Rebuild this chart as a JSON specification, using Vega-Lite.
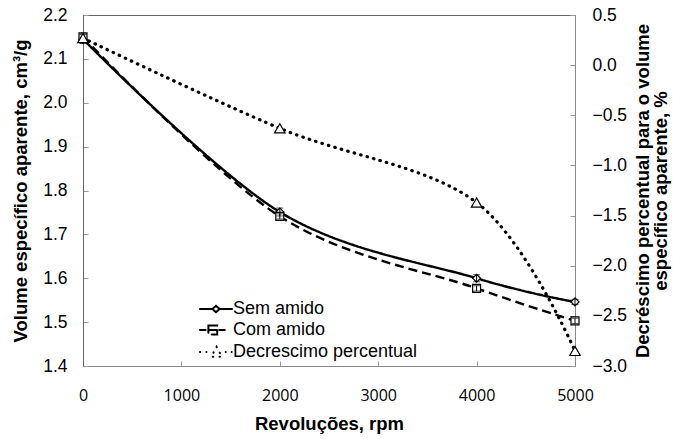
{
  "$schema": "https://vega.github.io/schema/vega-lite/v6.json",
  "width": 492,
  "height": 351,
  "autosize": "none",
  "padding": {"left": 83, "top": 15, "right": 98, "bottom": 73},
  "background": "white",
  "config": {
    "view": {"stroke": "#666"},
    "font": "Liberation Sans",
    "axis": {"grid": false, "labelColor": "black", "titleColor": "black", "labelFlush": false, "labelOverlap": false, "labelBound": false}
  },
  "datasets": {
    "vol": [
      {"x": 0, "s": "Sem amido", "v": 2.145, "lo": 2.135, "hi": 2.155},
      {"x": 2000, "s": "Sem amido", "v": 1.751, "lo": 1.742, "hi": 1.760},
      {"x": 4000, "s": "Sem amido", "v": 1.600, "lo": 1.592, "hi": 1.608},
      {"x": 5000, "s": "Sem amido", "v": 1.546, "lo": 1.540, "hi": 1.552},
      {"x": 0, "s": "Com amido", "v": 2.150, "lo": 2.143, "hi": 2.157},
      {"x": 2000, "s": "Com amido", "v": 1.741, "lo": 1.735, "hi": 1.747},
      {"x": 4000, "s": "Com amido", "v": 1.577, "lo": 1.571, "hi": 1.583},
      {"x": 5000, "s": "Com amido", "v": 1.503, "lo": 1.497, "hi": 1.509}
    ],
    "dec": [
      {"x": 0, "s": "Decrescimo percentual", "v": 0.27},
      {"x": 2000, "s": "Decrescimo percentual", "v": -0.63},
      {"x": 4000, "s": "Decrescimo percentual", "v": -1.37},
      {"x": 5000, "s": "Decrescimo percentual", "v": -2.85}
    ]
  },
  "encoding": {
    "x": {
      "field": "x", "type": "quantitative",
      "scale": {"domain": [0, 5000], "nice": false, "zero": false},
      "axis": {
        "title": "Revoluções, rpm", "values": [0, 1000, 2000, 3000, 4000, 5000], "format": "d",
        "labelFont": "Open Sans", "labelFontSize": 16, "labelPadding": 26,
        "tickSize": -5, "tickColor": "#999", "domainColor": "#888",
        "titleFontSize": 18.5, "titleFontWeight": "bold", "titlePadding": 11
      }
    }
  },
  "layer": [
    {
      "data": {"name": "vol"},
      "layer": [
        {
          "mark": {"type": "line", "interpolate": "cardinal", "strokeWidth": 2.4, "color": "black"},
          "encoding": {
            "y": {
              "field": "v", "type": "quantitative",
              "scale": {"domain": [1.4, 2.2], "nice": false, "zero": false},
              "axis": {
                "title": "Volume específico aparente, cm³/g",
                "values": [1.4, 1.5, 1.6, 1.7, 1.8, 1.9, 2.0, 2.1, 2.2], "format": ".1f",
                "labelFontSize": 17.5, "labelPadding": 21, "tickSize": -5, "tickColor": "#999",
                "domainColor": "#666", "titleFontSize": 18.5, "titleFontWeight": "bold", "titlePadding": 12
              }
            },
            "detail": {"field": "s"},
            "strokeDash": {
              "field": "s", "type": "nominal",
              "scale": {"domain": ["Sem amido", "Com amido", "Decrescimo percentual"], "range": [[1, 0], [9, 5], [0.5, 6.2]]},
              "legend": {
                "orient": "none", "legendX": 124, "legendY": 285, "title": null, "padding": 0,
                "symbolSize": 256, "labelFont": "Liberation Sans", "labelFontSize": 18, "labelColor": "black",
                "labelOffset": 8, "labelLimit": 400, "rowPadding": 3, "symbolStrokeWidth": 2, "symbolStrokeColor": "black",
                "encode": {
                  "symbols": {
                    "update": {
                      "shape": {"signal": "datum.value === 'Sem amido' ? 'M-2,0L-0.45,0M0.45,0L2,0M0,-0.4L0.45,0L0,0.4L-0.45,0Z' : datum.value === 'Com amido' ? 'M-2,0L-1.3,0M0.4,0L1.1,0M-0.95,-0.55L0.15,-0.55L0.15,0.55L-0.95,0.55ZM-0.95,0L0.15,0' : 'M-2,0L-1.99,0M-1.2,0L-1.19,0M1.2,0L1.21,0M1.95,0L1.96,0M0.07,-0.65L0.75,0.6L-0.6,0.6Z'"},
                      "strokeDash": {"value": [1, 0]},
                      "fill": {"value": "white"},
                      "stroke": {"value": "black"},
                      "strokeWidth": {"value": 2},
                      "strokeCap": {"value": "round"}
                    }
                  }
                }
              }
            }
          }
        },
        {
          "mark": {"type": "point", "filled": true, "fill": "white", "stroke": "black", "strokeWidth": 1.2, "size": 64, "opacity": 1},
          "encoding": {
            "y": {"field": "v", "type": "quantitative"},
            "shape": {"field": "s", "type": "nominal", "scale": {"domain": ["Sem amido", "Com amido"], "range": ["diamond", "square"]}, "legend": null}
          }
        },
        {
          "mark": {"type": "rule", "color": "black", "strokeWidth": 1},
          "encoding": {
            "y": {"field": "lo", "type": "quantitative"},
            "y2": {"field": "hi"}
          }
        },
        {
          "mark": {"type": "tick", "orient": "horizontal", "color": "black", "size": 7, "thickness": 1},
          "encoding": {"y": {"field": "lo", "type": "quantitative"}}
        },
        {
          "mark": {"type": "tick", "orient": "horizontal", "color": "black", "size": 7, "thickness": 1},
          "encoding": {"y": {"field": "hi", "type": "quantitative"}}
        }
      ]
    },
    {
      "data": {"name": "dec"},
      "layer": [
        {
          "mark": {"type": "line", "interpolate": "cardinal", "strokeWidth": 3.2, "strokeCap": "round", "color": "black"},
          "encoding": {
            "y": {
              "field": "v", "type": "quantitative",
              "scale": {"domain": [-3, 0.5], "nice": false, "zero": false},
              "axis": {
                "orient": "right",
                "title": ["Decréscimo  percentual para o volume", "específico aparente, %"],
                "titleAngle": 270, "titleLineHeight": 18,
                "values": [-3, -2.5, -2, -1.5, -1, -0.5, 0, 0.5], "format": ".1f",
                "labelFontSize": 17.5, "labelPadding": 22, "tickSize": -5, "tickColor": "#999",
                "domainColor": "#888", "titleFontSize": 18.5, "titleFontWeight": "bold", "titlePadding": 8
              }
            },
            "strokeDash": {"field": "s", "type": "nominal"}
          }
        },
        {
          "mark": {"type": "point", "shape": "triangle-up", "filled": true, "fill": "white", "stroke": "black", "strokeWidth": 1.2, "size": 110, "opacity": 1},
          "encoding": {"y": {"field": "v", "type": "quantitative"}}
        }
      ]
    }
  ],
  "resolve": {"scale": {"y": "independent"}}
}
